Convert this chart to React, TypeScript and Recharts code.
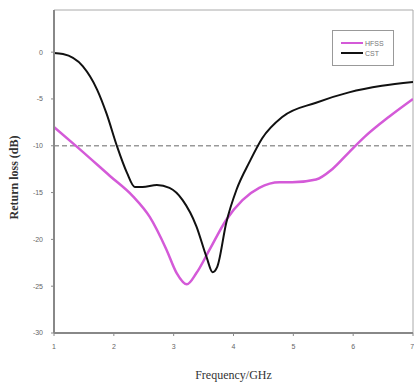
import React from 'react';
import {
  LineChart,
  Line,
  XAxis,
  YAxis,
  ReferenceLine,
  ReferenceArea,
  Legend,
} from 'recharts';

// frequency (GHz) / return loss (dB)
const hfssFreq = [1, 1.4, 1.93, 2.32, 2.6, 2.88, 3.05, 3.22, 3.38, 3.6, 3.88, 4.15, 4.43, 4.77, 4.98, 5.38, 5.65, 5.93, 6.2, 6.6, 7];
const hfssLoss = [-8, -10.2, -13.2, -15.4, -17.6, -21.1, -23.6, -24.8, -23.6, -21.1, -17.9, -15.8, -14.5, -13.9, -13.9, -13.6, -12.5, -10.7, -9, -6.9, -5];

const cstFreq = [1, 1.15, 1.48, 1.72, 1.88, 2.05, 2.22, 2.35, 2.48, 2.72, 2.93, 3.15, 3.38, 3.55, 3.65, 3.73, 3.88, 4.05, 4.27, 4.48, 4.82, 5.38, 5.93, 6.48, 7];
const cstLoss = [-0.1, -0.2, -1.5, -4, -6.6, -10, -12.9, -14.4, -14.4, -14.2, -14.5, -15.8, -18.6, -21.9, -23.5, -22.9, -18.2, -14.7, -11.7, -9.2, -6.9, -5.4, -4.3, -3.6, -3.2];

const xTicks = [1, 2, 3, 4, 5, 6, 7];
const yTicks = [-30, -25, -20, -15, -10, -5, 0];

const hfss = hfssFreq.map((f, i) => ({ f, v: hfssLoss[i] }));
const cst = cstFreq.map((f, i) => ({ f, v: cstLoss[i] }));

const tickStyle = { fill: '#666', fontSize: 7, fontFamily: 'Arial, sans-serif' };

function LegendBox() {
  const items = [
    { name: 'HFSS', color: '#d45ad8' },
    { name: 'CST', color: '#111' },
  ];
  return (
    <div
      style={{
        border: '1px solid #999',
        width: 62,
        height: 36,
        boxSizing: 'border-box',
        padding: '7px 0 0 8px',
        background: '#fff',
      }}
    >
      {items.map((it) => (
        <div key={it.name} style={{ display: 'flex', alignItems: 'center', height: 10 }}>
          <span style={{ width: 22, height: 2, background: it.color, display: 'inline-block' }} />
          <span style={{ fontSize: 7, color: '#777', fontFamily: 'Arial, sans-serif', marginLeft: 2 }}>
            {it.name}
          </span>
        </div>
      ))}
    </div>
  );
}

export default function App() {
  return (
    <div style={{ position: 'absolute', left: 0, top: 0, background: '#fff' }}>
      <LineChart width={414} height={385} margin={{ top: 10, right: 1, left: 0, bottom: 0 }}>
        <ReferenceArea x1={1} x2={7} y1={-30} y2={4.5} fill="none" stroke="#aaa" strokeWidth={1} />
        <XAxis
          dataKey="f"
          type="number"
          domain={[1, 7]}
          ticks={xTicks}
          height={52}
          tick={tickStyle}
          tickSize={3}
          tickMargin={8}
          axisLine={{ stroke: '#888', strokeWidth: 2 }}
          tickLine={{ stroke: '#888' }}
          allowDataOverflow
          label={{
            value: 'Frequency/GHz',
            position: 'insideBottom',
            offset: 6,
            style: { fill: '#333', fontSize: 12, fontFamily: '"Liberation Serif", serif' },
          }}
        />
        <YAxis
          type="number"
          domain={[-30, 4.5]}
          ticks={yTicks}
          width={54}
          tick={tickStyle}
          tickSize={3}
          tickMargin={8}
          axisLine={{ stroke: '#888', strokeWidth: 2 }}
          tickLine={{ stroke: '#888' }}
          allowDataOverflow
          label={{
            value: 'Return loss (dB)',
            angle: -90,
            position: 'insideLeft',
            offset: 14,
            dy: 6,
            style: {
              fill: '#333',
              fontSize: 12,
              fontWeight: 'bold',
              fontFamily: '"Liberation Serif", serif',
              textAnchor: 'middle',
            },
          }}
        />
        <ReferenceLine y={-10} stroke="#999" strokeWidth={1.5} strokeDasharray="5 3" />
        <Legend
          content={<LegendBox />}
          layout="horizontal"
          verticalAlign="middle"
          align="center"
          wrapperStyle={{ top: 30, left: 332, width: 64 }}
        />
        <Line
          data={hfss}
          dataKey="v"
          name="HFSS"
          type="monotone"
          stroke="#d45ad8"
          strokeWidth={2.5}
          dot={false}
          isAnimationActive={false}
        />
        <Line
          data={cst}
          dataKey="v"
          name="CST"
          type="monotone"
          stroke="#111"
          strokeWidth={2}
          dot={false}
          isAnimationActive={false}
        />
      </LineChart>
    </div>
  );
}
